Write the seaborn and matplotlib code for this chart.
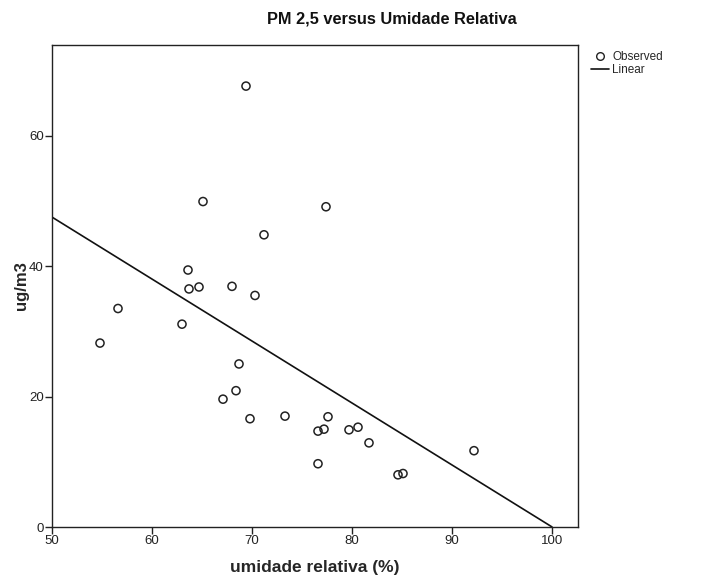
import numpy as np
import pandas as pd
import matplotlib
matplotlib.use("Agg")
import matplotlib.pyplot as plt
import seaborn as sns
from matplotlib.lines import Line2D

# Relative humidity (%) and PM2.5 concentration (ug/m3)
umidade = [69.4, 65.1, 77.4, 71.2, 63.6, 63.7, 64.7, 68.0, 70.3, 63.0,
           68.7, 68.4, 67.1, 69.8, 73.3, 77.6, 76.6, 77.2, 79.7, 80.6,
           81.7, 76.6, 84.6, 85.1, 92.2, 56.6, 54.8]
pm25 = [67.6, 49.9, 49.1, 44.8, 39.4, 36.5, 36.8, 36.9, 35.5, 31.1,
        25.0, 20.9, 19.6, 16.6, 17.0, 16.9, 14.7, 15.0, 14.9, 15.3,
        12.9, 9.7, 8.0, 8.2, 11.7, 33.5, 28.2]

x_ticks = [50, 60, 70, 80, 90, 100]
y_ticks = [0, 20, 40, 60]

df = pd.DataFrame({"umidade": umidade, "pm25": pm25})

sns.set_theme(style="white")
plt.rcParams["font.family"] = ["Liberation Sans", "DejaVu Sans"]

fig = plt.figure(figsize=(7.12, 5.84), dpi=100)
ax = fig.add_axes([52 / 712, 1 - 527 / 584, (578 - 52) / 712, (527 - 45) / 584])

# Observed values
sns.scatterplot(data=df, x="umidade", y="pm25", ax=ax, marker="o", s=34,
                facecolor="none", edgecolor="#222222", linewidth=1.1, legend=False)

# Least-squares linear fit drawn across the axis tick range
slope, intercept = np.polyfit(df["umidade"], df["pm25"], 1)
xs = np.array([x_ticks[0], x_ticks[-1]], dtype=float)
fit = pd.DataFrame({"x": xs, "y": intercept + slope * xs})
sns.lineplot(data=fit, x="x", y="y", ax=ax, color="#111111", linewidth=1.2)

ax.set_xlim(50, 102.6)
ax.set_ylim(0, 73.9)
ax.set_xticks(x_ticks)
ax.set_yticks(y_ticks)
ax.set_xticklabels([str(t) for t in x_ticks])
ax.set_yticklabels([str(t) for t in y_ticks])
ax.tick_params(axis="both", which="major", direction="out", length=5, width=1,
               color="#222222", labelsize=9.5, labelcolor="#222222", pad=1,
               left=True, bottom=True)
for sp in ax.spines.values():
    sp.set_visible(True)
    sp.set_color("#222222")
    sp.set_linewidth(1.0)

ax.set_xlabel("umidade relativa (%)", fontsize=12.5, fontweight="bold", labelpad=9)
ax.set_ylabel("ug/m3", fontsize=12, fontweight="bold", labelpad=0)

fig.text(392 / 712, 1 - 19 / 584, "PM 2,5 versus Umidade Relativa",
         ha="center", va="center", fontsize=11.8, fontweight="bold", color="#111111")

handles = [
    Line2D([], [], marker="o", linestyle="none", markerfacecolor="none",
           markeredgecolor="#222222", markersize=5.5, markeredgewidth=1.0),
    Line2D([], [], color="#111111", linewidth=1.2),
]
fig.legend(handles, ["Observed", "Linear"], loc="upper left",
           bbox_to_anchor=(591 / 712, 1 - 51 / 584), frameon=False,
           fontsize=8.5, handlelength=1.5, handletextpad=0.3,
           labelspacing=0.1, borderpad=0, borderaxespad=0)

fig.savefig("out.png", dpi=100)
